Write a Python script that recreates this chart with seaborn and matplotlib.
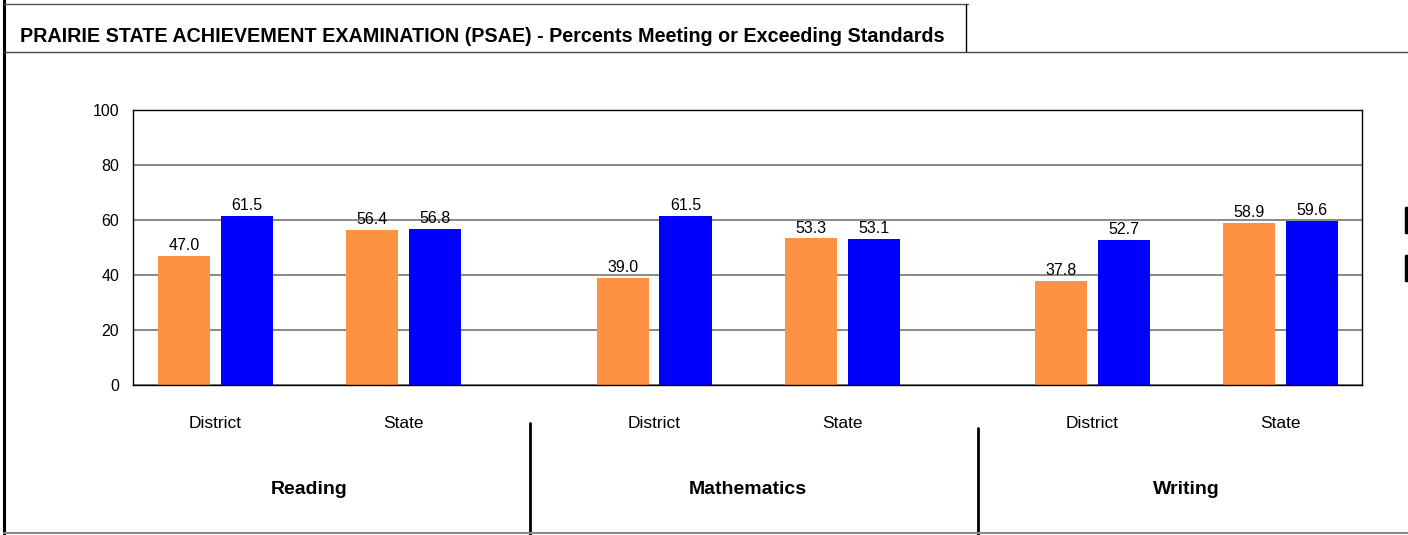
import numpy as np
import pandas as pd
import matplotlib
matplotlib.use("Agg")
import matplotlib.pyplot as plt
from matplotlib.lines import Line2D
from matplotlib.patches import Rectangle
import matplotlib.transforms as mtransforms
import seaborn as sns

# ---- data ----
subjects = ["Reading", "Mathematics", "Writing"]
levels = ["District", "State"]
series_names = ["Series 1", "Series 2"]
values_series1 = [47.0, 56.4, 39.0, 53.3, 37.8, 58.9]
values_series2 = [61.5, 56.8, 61.5, 53.1, 52.7, 59.6]
y_ticks = [0, 20, 40, 60, 80, 100]
title = "PRAIRIE STATE ACHIEVEMENT EXAMINATION (PSAE) - Percents Meeting or Exceeding Standards"

# ---- layout ----
W, H, DPI = 1408, 535, 100
group_step = 2.3324
positions = [g * group_step + i for g in range(len(subjects)) for i in range(len(levels))]
colors = ["#FF9142", "#0000FF"]

sns.set_theme(style="white")
plt.rcParams["font.family"] = ["Liberation Sans", "DejaVu Sans"]
plt.rcParams["text.color"] = "black"
plt.rcParams["xtick.color"] = "black"
plt.rcParams["ytick.color"] = "black"

df = pd.DataFrame({
    "pos": positions * 2,
    "value": values_series1 + values_series2,
    "series": [series_names[0]] * len(positions) + [series_names[1]] * len(positions),
})

fig = plt.figure(figsize=(W / DPI, H / DPI), dpi=DPI)
fig.patch.set_facecolor("white")

def fx(px):
    return px / W

def fy(py):
    return 1 - py / H

ax = fig.add_axes([fx(133), fy(385), fx(1362) - fx(133), fy(110) - fy(385)])
sns.barplot(data=df, x="pos", y="value", hue="series", native_scale=True,
            palette=colors, width=0.67, gap=0.174, saturation=1,
            errorbar=None, legend=False, linewidth=0, ax=ax)

for cont in ax.containers:
    ax.bar_label(cont, fmt="%.1f", padding=2, fontsize=11.5, color="black")

ax.set_xlim(-0.4388, 6.098)
ax.set_ylim(0, 100)
ax.set_yticks(y_ticks)
ax.set_yticklabels([str(t) for t in y_ticks], fontsize=11.5)
ax.set_xticks(positions)
ax.set_xticklabels(levels * len(subjects), fontsize=12.5)
ax.tick_params(axis="x", length=0, pad=22.5)
ax.tick_params(axis="y", length=0, pad=10)
ax.set_xlabel("")
ax.set_ylabel("")
ax.yaxis.grid(True, color="#808080", linewidth=1.3)
ax.set_axisbelow(True)
for s in ax.spines.values():
    s.set_color("black")
    s.set_linewidth(1.0)
    s.set_visible(True)

# group labels and separators (blended transform: x in data, y in figure)
trans = mtransforms.blended_transform_factory(ax.transData, fig.transFigure)
sep_fracs = [0.505, 0.543]
sep_tops = [423, 428]
for g, name in enumerate(subjects):
    center = (positions[2 * g] + positions[2 * g + 1]) / 2
    fig.text(center, fy(489), name, transform=trans, ha="center", va="center",
             fontsize=14, fontweight="bold", color="black")
    if g < len(subjects) - 1:
        a, b = positions[2 * g + 1], positions[2 * g + 2]
        sep = a + sep_fracs[g] * (b - a)
        fig.add_artist(Line2D([sep, sep], [fy(sep_tops[g]), fy(535)], transform=trans,
                              color="black", linewidth=2))

# frame / title box
def fline(x0, y0, x1, y1, color="black", lw=1.0):
    fig.add_artist(Line2D([fx(x0), fx(x1)], [fy(y0), fy(y1)],
                          transform=fig.transFigure, color=color, linewidth=lw))

fline(4, 0, 4, 535, lw=2.2)
fline(4, 4, 968, 4, color="#555555", lw=1.0)
fline(966, 4, 966, 52, lw=1.0)
fline(4, 52, 1408, 52, color="#444444", lw=1.0)
fline(4, 533, 1408, 533, color="#888888", lw=1.5)

# cut-off legend fragments at right edge
for (y0, y1) in [(207, 233), (255, 281)]:
    fig.add_artist(Rectangle((fx(1405), fy(y1)), fx(3), fy(y0) - fy(y1),
                             transform=fig.transFigure, color="black"))

# title fitted to width
t = fig.text(fx(20), fy(36), title, ha="left", va="center", fontsize=12,
             fontweight="bold", color="black")
fig.canvas.draw()
r = fig.canvas.get_renderer()
w = t.get_window_extent(r).width
t.set_fontsize(12 * 922 / w)

fig.savefig("out.png", dpi=DPI, facecolor="white")
